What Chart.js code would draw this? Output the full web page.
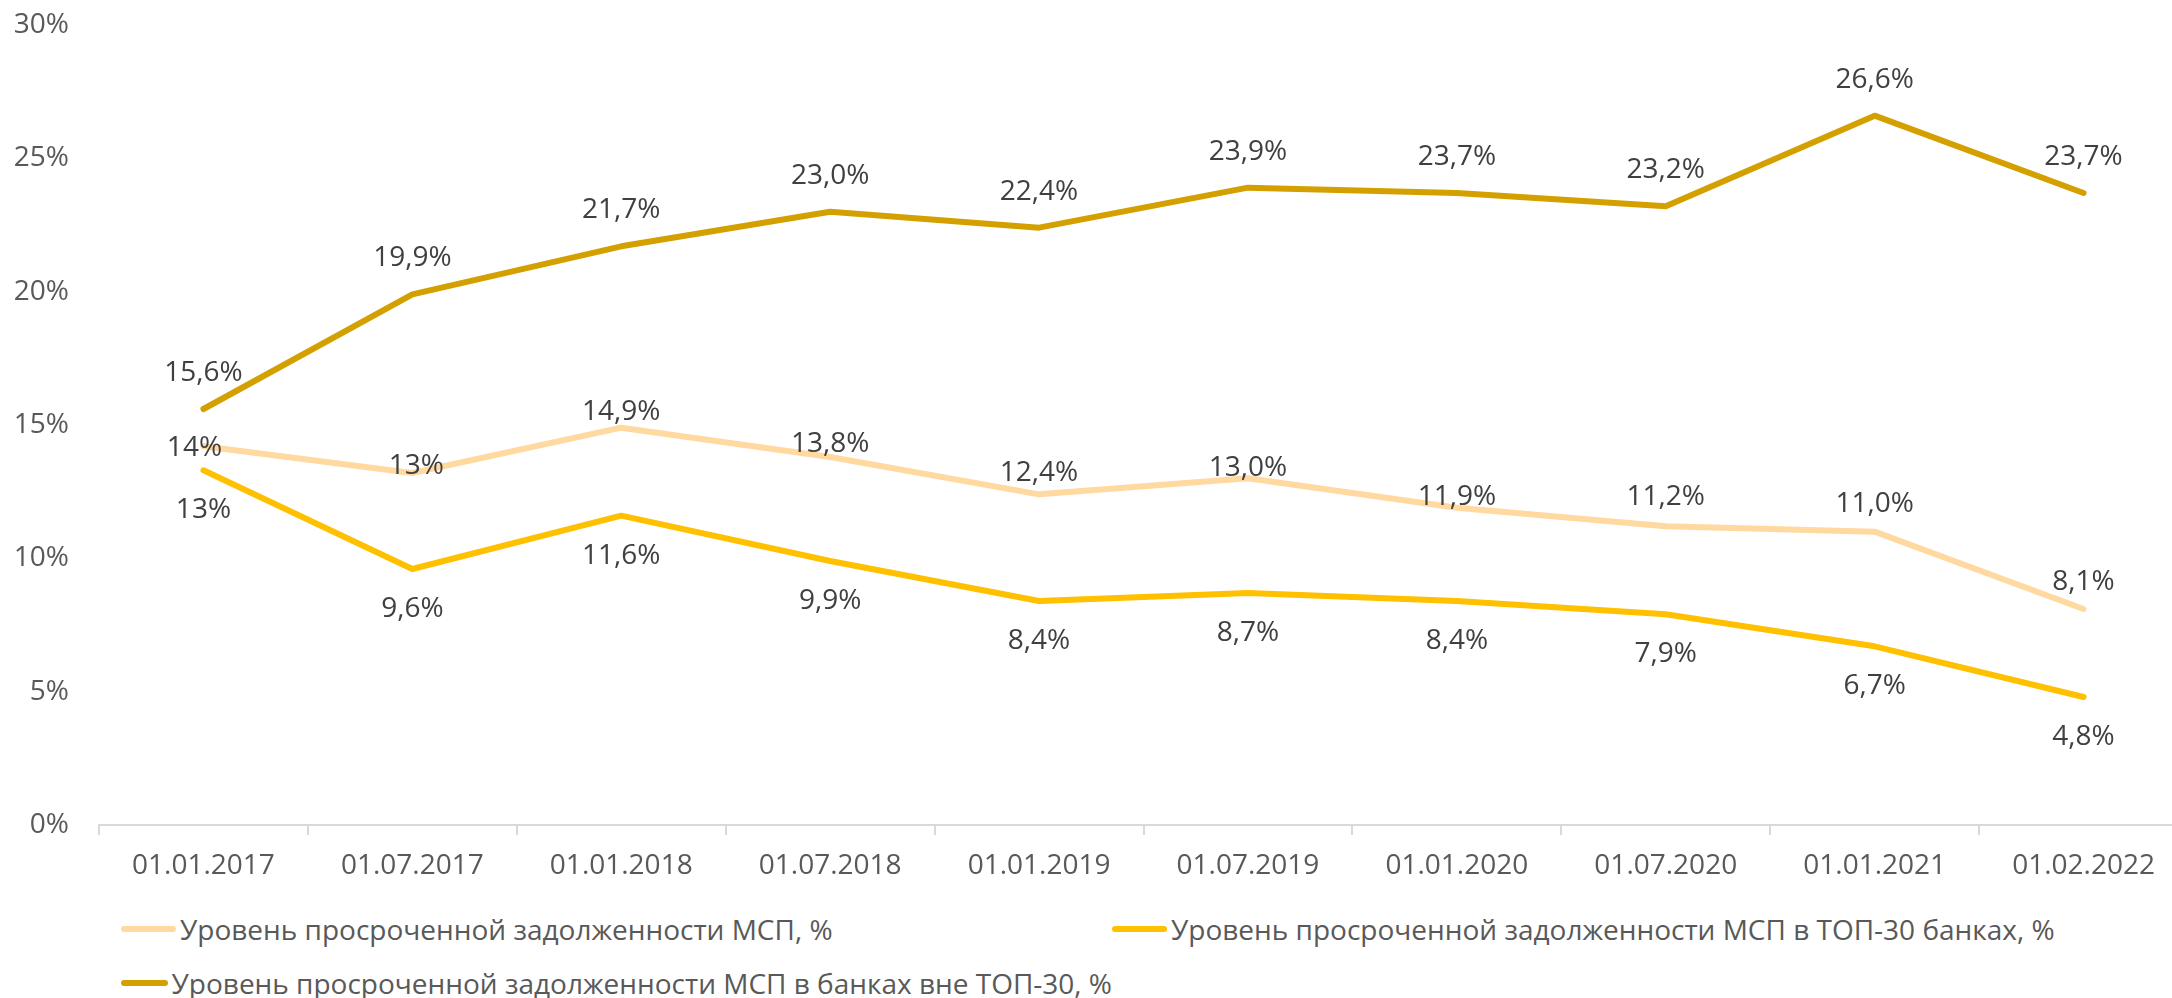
<!DOCTYPE html>
<html>
<head>
<meta charset="utf-8">
<script src="https://cdn.jsdelivr.net/npm/chart.js@4/dist/chart.umd.min.js"></script>
<style>
  html, body { margin: 0; padding: 0; background: #fff; overflow: hidden; }
  #wrap { position: absolute; left: 0; top: 0; width: 2190px; height: 895px; }
  #legend { position: absolute; left: 121px; top: 902px; font-family: "Open Sans", sans-serif; font-size: 28px; color: #595959; }
  .row { display: flex; height: 54px; align-items: center; }
  .item { display: flex; align-items: center; width: 991px; white-space: nowrap; }
  .swatch { width: 55px; height: 6px; border-radius: 3px; margin-right: 4px; }
</style>
</head>
<body>
<div id="wrap"><canvas id="overdueChart"></canvas></div>
<div id="legend"></div>
<script>
const dates = ['01.01.2017', '01.07.2017', '01.01.2018', '01.07.2018', '01.01.2019',
               '01.07.2019', '01.01.2020', '01.07.2020', '01.01.2021', '01.02.2022'];
const yTicks = [0, 5, 10, 15, 20, 25, 30];

const seriesNames = [
  'Уровень просроченной задолженности МСП, %',
  'Уровень просроченной задолженности МСП в ТОП-30 банках, %',
  'Уровень просроченной задолженности МСП в банках вне ТОП-30, %'
];
const allSme = [14.2, 13.2, 14.9, 13.8, 12.4, 13.0, 11.9, 11.2, 11.0, 8.1];
const top30 = [13.3, 9.6, 11.6, 9.9, 8.4, 8.7, 8.4, 7.9, 6.7, 4.8];
const outsideTop30 = [15.6, 19.9, 21.7, 23.0, 22.4, 23.9, 23.7, 23.2, 26.6, 23.7];

// decimals shown in each data label (first points are rounded in the original)
const allSmeDigits = [0, 0, 1, 1, 1, 1, 1, 1, 1, 1];
const top30Digits = [0, 1, 1, 1, 1, 1, 1, 1, 1, 1];
const outsideDigits = [1, 1, 1, 1, 1, 1, 1, 1, 1, 1];

const colors = ['#FFD9A0', '#FFC000', '#D4A000'];

// label placement relative to the point, px [dx, dy]
const labelShift = [
  [[-9, 2], [4, -7], [0, -16], [0, -13], [0, -21], [0, -10], [0, -11], [0, -29], [0, -28], [0, -27]],
  dates.map(() => [0, 40]),
  dates.map(() => [0, -36])
];
const digits = [allSmeDigits, top30Digits, outsideDigits];

const fmt = (v, d) => v.toFixed(d).replace('.', ',') + '%';

const pointLabels = {
  id: 'pointLabels',
  afterDatasetsDraw(chart) {
    const ctx = chart.ctx;
    ctx.save();
    ctx.font = '28px "Open Sans", sans-serif';
    ctx.fillStyle = '#404040';
    ctx.textAlign = 'center';
    ctx.textBaseline = 'middle';
    chart.data.datasets.forEach((ds, i) => {
      const meta = chart.getDatasetMeta(i);
      meta.data.forEach((pt, j) => {
        const [dx, dy] = labelShift[i][j];
        ctx.fillText(fmt(ds.data[j], digits[i][j]), pt.x + dx, pt.y + dy);
      });
    });
    ctx.restore();
  }
};

const lineStyle = (color) => ({
  borderColor: color,
  backgroundColor: color,
  borderWidth: 6,
  borderCapStyle: 'round',
  borderJoinStyle: 'round',
  pointRadius: 0,
  tension: 0,
  fill: false
});

const chart = new Chart(document.getElementById('overdueChart'), {
  type: 'line',
  data: {
    labels: dates,
    datasets: [
      { label: seriesNames[0], data: allSme, ...lineStyle(colors[0]) },
      { label: seriesNames[1], data: top30, ...lineStyle(colors[1]) },
      { label: seriesNames[2], data: outsideTop30, ...lineStyle(colors[2]) }
    ]
  },
  options: {
    responsive: true,
    maintainAspectRatio: false,
    animation: false,
    layout: { padding: { top: 25, right: 2, left: 0, bottom: 0 } },
    plugins: { legend: { display: false }, tooltip: { enabled: false } },
    scales: {
      x: {
        offset: true,
        grid: { offset: true, drawOnChartArea: false, color: '#D9D9D9', lineWidth: 2, tickLength: 10 },
        border: { color: '#D9D9D9', width: 2 },
        ticks: { color: '#595959', font: { family: 'Open Sans', size: 28 }, padding: 14, maxRotation: 0 },
        afterFit(scale) { scale.height = 70; scale.paddingLeft = 0; scale.paddingRight = 0; }
      },
      y: {
        min: 0,
        max: 30,
        afterBuildTicks(scale) { scale.ticks = yTicks.map(v => ({ value: v })); },
        grid: { display: false, drawTicks: false },
        border: { display: false },
        ticks: {
          color: '#595959',
          font: { family: 'Open Sans', size: 28 },
          padding: 30,
          callback: (v) => v + '%'
        },
        afterFit(scale) { scale.width = 99; scale.paddingTop = 0; scale.paddingBottom = 0; }
      }
    }
  },
  plugins: [pointLabels]
});

// legend laid out like the original: two items in the first row, one below
const legend = document.getElementById('legend');
const rows = [[0, 1], [2]];
rows.forEach(r => {
  const row = document.createElement('div');
  row.className = 'row';
  r.forEach(i => {
    const ds = chart.data.datasets[i];
    const item = document.createElement('div');
    item.className = 'item';
    const sw = document.createElement('span');
    sw.className = 'swatch';
    sw.style.background = ds.borderColor;
    const txt = document.createElement('span');
    txt.textContent = ds.label;
    item.appendChild(sw);
    item.appendChild(txt);
    row.appendChild(item);
  });
  legend.appendChild(row);
});
</script>
</body>
</html>
